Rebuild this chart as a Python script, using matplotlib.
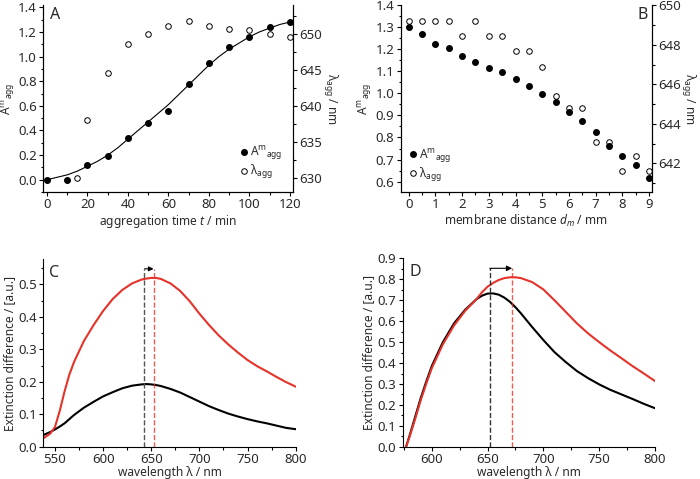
import numpy as np
import matplotlib.pyplot as plt
from matplotlib.ticker import MultipleLocator
from matplotlib.lines import Line2D

plt.rcParams['font.family'] = ['Noto Sans', 'DejaVu Sans']
plt.rcParams['mathtext.fontset'] = 'custom'
plt.rcParams['mathtext.rm'] = 'Noto Sans'
plt.rcParams['mathtext.it'] = 'Noto Sans:italic'
plt.rcParams['font.size'] = 8.6
plt.rcParams['xtick.labelsize'] = 9.5
plt.rcParams['ytick.labelsize'] = 9.5
plt.rcParams['text.color'] = '#2a2a2a'
plt.rcParams['axes.labelcolor'] = '#2a2a2a'
plt.rcParams['xtick.labelcolor'] = '#2a2a2a'
plt.rcParams['ytick.labelcolor'] = '#2a2a2a'

RED = '#e5332a'

# panel A: aggregation time series
t_agg = [0, 10, 20, 30, 40, 50, 60, 70, 80, 90, 100, 110, 120]
A_agg = [0.00, 0.00, 0.12, 0.19, 0.34, 0.46, 0.56, 0.78, 0.95, 1.08, 1.16, 1.24, 1.28]
t_lam = [15, 20, 30, 40, 50, 60, 70, 80, 90, 100, 110, 120]
lam_t = [630.0, 638.0, 644.6, 648.6, 650.0, 651.0, 651.7, 651.1, 650.6, 650.5, 650.0, 649.5]
# sigmoid fit line
fit_t = [0, 5, 10, 15, 20, 25, 30, 35, 40, 45, 50, 55, 60, 65, 70, 75, 80, 85, 90,
         95, 100, 105, 110, 115, 120]
fit_A = [0.00, 0.02, 0.04, 0.07, 0.11, 0.15, 0.20, 0.26, 0.33, 0.40, 0.47, 0.54, 0.61,
         0.69, 0.77, 0.85, 0.93, 1.00, 1.06, 1.11, 1.16, 1.20, 1.23, 1.26, 1.28]

# panel B: membrane distance series
d_m = [0, 0.5, 1, 1.5, 2, 2.5, 3, 3.5, 4, 4.5, 5, 5.5, 6, 6.5, 7, 7.5, 8, 8.5, 9]
A_d = [1.302, 1.270, 1.227, 1.206, 1.171, 1.142, 1.118, 1.097, 1.067, 1.036, 0.998,
       0.962, 0.918, 0.877, 0.824, 0.762, 0.718, 0.673, 0.615]
lam_d = [649.2, 649.2, 649.2, 649.2, 648.45, 649.2, 648.45, 648.45, 647.7, 647.7, 646.9,
         645.4, 644.8, 644.8, 643.1, 643.1, 641.6, 642.35, 641.6]

# panel C spectra
wl_C = [538, 545, 550, 555, 560, 565, 570, 580, 590, 600, 610, 620, 630, 640, 645, 650,
        655, 660, 670, 680, 690, 700, 710, 720, 730, 740, 750, 760, 770, 780, 790, 800]
C_red = [0.026, 0.040, 0.060, 0.110, 0.170, 0.222, 0.262, 0.325, 0.374, 0.418, 0.455,
         0.483, 0.503, 0.515, 0.518, 0.520, 0.520, 0.517, 0.503, 0.480, 0.448, 0.410,
         0.375, 0.343, 0.315, 0.290, 0.267, 0.248, 0.232, 0.215, 0.199, 0.185]
C_black = [0.036, 0.045, 0.053, 0.062, 0.072, 0.085, 0.098, 0.120, 0.138, 0.155, 0.168,
           0.180, 0.188, 0.192, 0.193, 0.192, 0.190, 0.187, 0.178, 0.167, 0.153, 0.139,
           0.125, 0.113, 0.102, 0.093, 0.085, 0.078, 0.072, 0.065, 0.058, 0.054]
peak_C = [643, 652.4]

# panel D spectra
wl_D = [577, 580, 585, 590, 595, 600, 610, 620, 630, 640, 645, 650, 655, 660, 665, 670,
        675, 680, 690, 700, 710, 720, 730, 740, 750, 760, 770, 780, 790, 800]
D_black = [0.0, 0.05, 0.14, 0.23, 0.31, 0.385, 0.50, 0.59, 0.655, 0.705, 0.722, 0.732,
           0.733, 0.727, 0.713, 0.693, 0.667, 0.637, 0.572, 0.51, 0.452, 0.405, 0.362,
           0.328, 0.298, 0.272, 0.25, 0.228, 0.205, 0.184]
D_red = [0.0, 0.045, 0.13, 0.22, 0.30, 0.375, 0.49, 0.58, 0.65, 0.705, 0.738, 0.765,
         0.783, 0.797, 0.806, 0.81, 0.81, 0.806, 0.787, 0.752, 0.70, 0.645, 0.59, 0.542,
         0.50, 0.46, 0.423, 0.385, 0.35, 0.314]
peak_D = [652, 672]


def style(ax, right=False):
    ax.spines['top'].set_visible(False)
    if not right:
        ax.spines['right'].set_visible(False)
    ax.tick_params(which='both', direction='out', width=0.8, pad=1.5)
    ax.tick_params(which='major', length=3)
    ax.tick_params(which='minor', length=1.8)


fig = plt.figure(figsize=(7, 4.79), dpi=100)

leg_labels = ['A$^\\mathregular{m}$$_\\mathregular{agg}$', 'λ$_\\mathregular{agg}$']
handles = [Line2D([], [], ls='none', marker='o', color='k', ms=4),
           Line2D([], [], ls='none', marker='o', mfc='none', mec='k', ms=4, mew=0.7)]

# ---- A
axA = fig.add_axes([0.0614, 0.599, 0.357, 0.391])
axA.plot(fit_t, fit_A, color='k', lw=0.8)
axA.plot(t_agg, A_agg, 'o', color='k', ms=4)
axA.set_xlim(-2, 121.5)
axA.set_ylim(-0.1, 1.42)
axA.xaxis.set_major_locator(MultipleLocator(20))
axA.xaxis.set_minor_locator(MultipleLocator(10))
axA.yaxis.set_major_locator(MultipleLocator(0.2))
axA.yaxis.set_minor_locator(MultipleLocator(0.1))
axA.yaxis.set_major_formatter(lambda v, p: f'{v:.1f}')
axA.set_xlabel('aggregation time $t$ / min', labelpad=1)
axA.set_ylabel(leg_labels[0], labelpad=1)
style(axA, right=True)
axA2 = axA.twinx()
axA2.plot(t_lam, lam_t, 'o', mfc='none', mec='k', ms=4, mew=0.7)
axA2.set_ylim(628, 654)
axA2.yaxis.set_major_locator(MultipleLocator(5))
axA2.yaxis.set_minor_locator(MultipleLocator(2.5))
axA2.set_ylabel('λ$_\\mathregular{agg}$ / nm', rotation=270, labelpad=12)
style(axA2, right=True)
axA.text(0.03, 0.945, 'A', transform=axA.transAxes, fontsize=11.5, va='center')
axA2.legend(handles, leg_labels, loc='lower right', frameon=False, handlelength=0.6,
            handletextpad=0.2, labelspacing=0.1, borderaxespad=0.5, fontsize=8.6)

# ---- B
axB = fig.add_axes([0.5724, 0.599, 0.3586, 0.391])
axB.plot(d_m, A_d, 'o', color='k', ms=4)
axB.set_xlim(-0.3, 9.1)
axB.set_ylim(0.552, 1.403)
axB.xaxis.set_major_locator(MultipleLocator(1))
axB.xaxis.set_minor_locator(MultipleLocator(0.5))
axB.yaxis.set_major_locator(MultipleLocator(0.1))
axB.yaxis.set_minor_locator(MultipleLocator(0.05))
axB.set_xlabel('membrane distance $d_m$ / mm', labelpad=1)
axB.set_ylabel(leg_labels[0], labelpad=1)
style(axB, right=True)
axB2 = axB.twinx()
axB2.plot(d_m, lam_d, 'o', mfc='none', mec='k', ms=4, mew=0.7)
axB2.set_ylim(640.54, 650.03)
axB2.yaxis.set_major_locator(MultipleLocator(2))
axB2.yaxis.set_minor_locator(MultipleLocator(1))
axB2.set_ylabel('λ$_\\mathregular{agg}$ / nm', rotation=270, labelpad=11.5)
style(axB2, right=True)
axB.text(0.963, 0.945, 'B', transform=axB.transAxes, fontsize=11.5, va='center', ha='center')
axB2.legend(handles, leg_labels, loc='lower left', frameon=False, handlelength=0.6,
            handletextpad=0.2, labelspacing=0.1, borderaxespad=0.3, fontsize=8.6)

# ---- C
axC = fig.add_axes([0.0619, 0.0674, 0.3606, 0.391])
axC.plot(wl_C, C_black, color='k', lw=1.5)
axC.plot(wl_C, C_red, color=RED, lw=1.5)
top_C = 0.548
axC.plot([peak_C[0]] * 2, [0, top_C], ls='--', color='#555555', lw=1)
axC.plot([peak_C[1]] * 2, [0, top_C], ls='--', color=RED, lw=1, alpha=0.8)
axC.annotate('', xy=(peak_C[1], top_C), xytext=(peak_C[0], top_C),
             arrowprops=dict(arrowstyle='-|>', color='k', lw=0.8, shrinkA=0, shrinkB=0,
                             mutation_scale=7))
axC.set_xlim(538, 800)
axC.set_ylim(0, 0.577)
axC.xaxis.set_major_locator(MultipleLocator(50))
axC.xaxis.set_minor_locator(MultipleLocator(25))
axC.yaxis.set_major_locator(MultipleLocator(0.1))
axC.yaxis.set_minor_locator(MultipleLocator(0.05))
axC.set_xlabel('wavelength λ / nm', labelpad=0)
axC.set_ylabel('Extinction difference / [a.u.]', labelpad=2)
style(axC)
axC.text(0.042, 0.927, 'C', transform=axC.transAxes, fontsize=11.5, va='center', ha='center')

# ---- D
axD = fig.add_axes([0.5753, 0.0674, 0.3604, 0.393])
axD.plot(wl_D, D_black, color='k', lw=1.5)
axD.plot(wl_D, D_red, color=RED, lw=1.5)
top_D = 0.853
axD.plot([peak_D[0]] * 2, [0, top_D], ls='--', color='#333333', lw=1)
axD.plot([peak_D[1]] * 2, [0, top_D], ls='--', color=RED, lw=1, alpha=0.8)
axD.annotate('', xy=(peak_D[1], top_D), xytext=(peak_D[0], top_D),
             arrowprops=dict(arrowstyle='-|>', color='k', lw=0.8, shrinkA=0, shrinkB=0,
                             mutation_scale=8))
axD.set_xlim(574, 800)
axD.set_ylim(0, 0.9)
axD.xaxis.set_major_locator(MultipleLocator(50))
axD.xaxis.set_minor_locator(MultipleLocator(25))
axD.yaxis.set_major_locator(MultipleLocator(0.1))
axD.yaxis.set_minor_locator(MultipleLocator(0.05))
axD.set_xlabel('wavelength λ / nm', labelpad=0)
axD.set_ylabel('Extinction difference / [a.u.]', labelpad=2)
style(axD)
axD.text(0.049, 0.927, 'D', transform=axD.transAxes, fontsize=11.5, va='center', ha='center')

fig.savefig('out.png', dpi=100)
